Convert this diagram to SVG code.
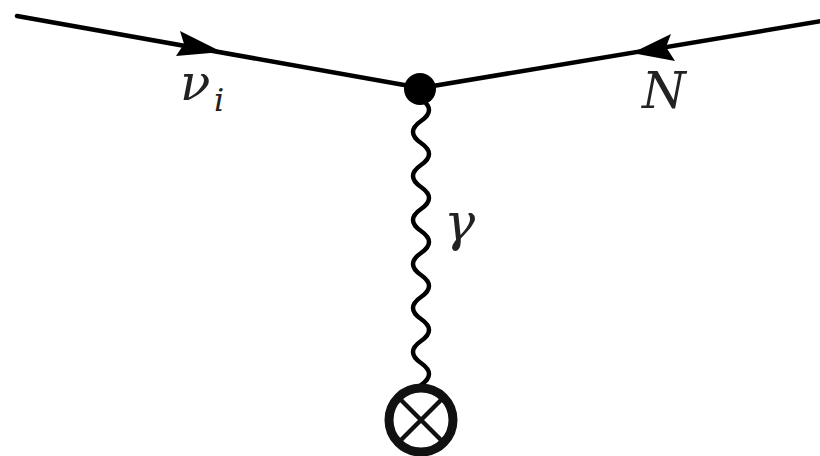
<svg xmlns="http://www.w3.org/2000/svg" width="820" height="456" viewBox="0 0 820 456">
<style>
.line{stroke:#000;stroke-width:4.5;fill:none;stroke-linecap:round}
.lbl{font-family:"DejaVu Serif","Liberation Serif",serif;font-style:italic;fill:#222}
</style>
<rect width="820" height="456" fill="#fff"/>
<g id="connectors">
<path id="nu-line" class="line" d="M17 16 L421 88"/>
<path id="N-line" class="line" d="M421 88 L822 21"/>
<path id="photon" class="line" stroke-width="4" d="M421 99 q16 11 0 22 t0 22 t0 22 t0 22 t0 22 t0 22 t0 22 t0 22 t0 22 t0 22 t0 22 t0 22 t0 22"/>
<path id="arrow-nu" d="M222 52 L180 31 L184 44 L176 56 Z" fill="#000"/>
<path id="arrow-N" d="M632 53 L671 34 L666 47 L675 61 Z" fill="#000"/>
</g>
<g id="vertex"><circle cx="420" cy="89" r="16" fill="#000"/></g>
<g id="source">
<circle cx="421" cy="420" r="32" fill="none" stroke="#111" stroke-width="9"/>
<path d="M399 398 L443 442 M443 398 L399 442" stroke="#111" stroke-width="4.5"/>
</g>
<g id="labels">
<text class="lbl" x="180" y="100" font-size="50">ν</text>
<text class="lbl" x="214" y="111" font-size="32">i</text>
<text class="lbl" x="642" y="108" font-size="50">N</text>
<text class="lbl" x="444" y="240" font-size="52">γ</text>
</g>
</svg>
